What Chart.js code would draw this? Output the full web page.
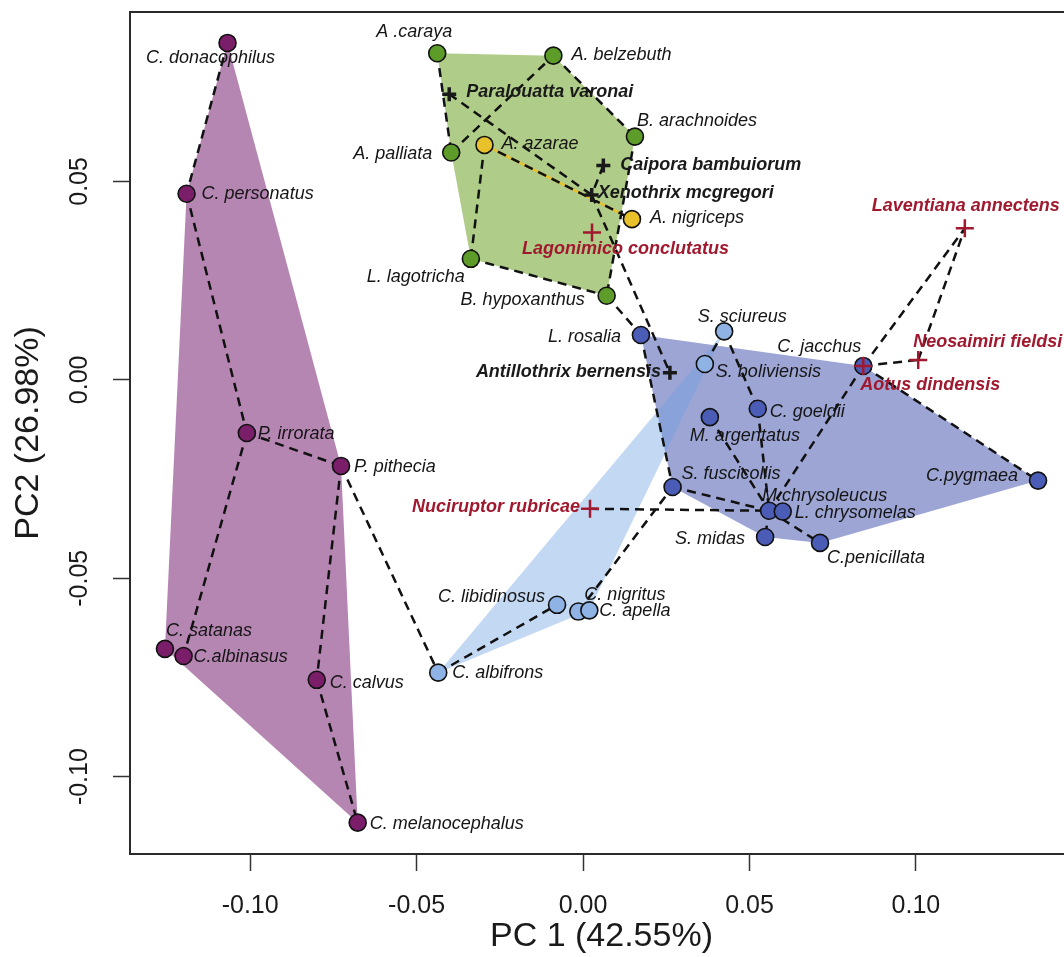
<!DOCTYPE html>
<html>
<head>
<meta charset="utf-8">
<script src="https://cdn.jsdelivr.net/npm/chart.js@4.4.1/dist/chart.umd.min.js"></script>
<style>
    html, body { margin: 0; padding: 0; background: #fff; overflow: hidden; }
    #pca { display: block; }
</style>
</head>
<body>
<canvas id="pca" width="1090" height="957"></canvas>
<script>
// Pitheciidae (purple)
const pitheciidNames = ['C. donacophilus', 'C. personatus', 'P. irrorata', 'P. pithecia', 'C. satanas', 'C.albinasus', 'C. calvus', 'C. melanocephalus'];
const pitheciidPC1 = [-0.1068, -0.1191, -0.1010, -0.0727, -0.1256, -0.1200, -0.0800, -0.0677];
const pitheciidPC2 = [0.0849, 0.0469, -0.0134, -0.0217, -0.0678, -0.0696, -0.0756, -0.1116];

// Atelidae (green)
const atelidNames = ['A .caraya', 'A. belzebuth', 'B. arachnoides', 'A. palliata', 'L. lagotricha', 'B. hypoxanthus'];
const atelidPC1 = [-0.0438, -0.0089, 0.0156, -0.0396, -0.0337, 0.0071];
const atelidPC2 = [0.0823, 0.0817, 0.0613, 0.0573, 0.0305, 0.0212];

// Alouatta pair (yellow)
const yellowNames = ['A. azarae', 'A. nigriceps'];
const yellowPC1 = [-0.0296, 0.0147];
const yellowPC2 = [0.0592, 0.0405];

// Cebinae (light blue)
const cebineNames = ['S. sciureus', 'S. boliviensis', 'C. libidinosus', 'C. nigritus', 'C. apella', 'C. albifrons'];
const cebinePC1 = [0.0424, 0.0366, -0.0078, -0.0014, 0.0019, -0.0435];
const cebinePC2 = [0.0122, 0.0040, -0.0567, -0.0584, -0.0581, -0.0738];

// Callitrichidae (dark blue)
const callitrichidNames = ['L. rosalia', 'C. jacchus', 'C. goeldii', 'M. argentatus', 'S. fuscicollis', 'M.chrysoleucus', 'L. chrysomelas', 'S. midas', 'C.penicillata', 'C.pygmaea'];
const callitrichidPC1 = [0.0174, 0.0842, 0.0525, 0.0381, 0.0269, 0.0559, 0.0600, 0.0547, 0.0712, 0.1367];
const callitrichidPC2 = [0.0113, 0.0035, -0.0073, -0.0094, -0.0270, -0.0330, -0.0332, -0.0396, -0.0411, -0.0254];

// Fossils
const antilleanNames = ['Paralouatta varonai', 'Caipora bambuiorum', 'Xenothrix mcgregori', 'Antillothrix bernensis'];
const antilleanPC1 = [-0.0402, 0.0061, 0.0026, 0.0261];
const antilleanPC2 = [0.0720, 0.0540, 0.0466, 0.0018];

const mioceneNames = ['Lagonimico conclutatus', 'Laventiana annectens', 'Neosaimiri fieldsi', 'Aotus dindensis', 'Nuciruptor rubricae'];
const miocenePC1 = [0.0027, 0.1147, 0.1007, 0.0842, 0.0021];
const miocenePC2 = [0.0371, 0.0382, 0.0050, 0.0035, -0.0325];

// Tree branches drawn as dashed lines
const treeEdges = [
    ['C. donacophilus', 'C. personatus'],
    ['C. personatus', 'P. irrorata'],
    ['P. irrorata', 'C.albinasus'],
    ['P. irrorata', 'P. pithecia'],
    ['P. pithecia', 'C. calvus'],
    ['C. calvus', 'C. melanocephalus'],
    ['P. pithecia', 'C. albifrons'],
    ['C. albifrons', 'C. libidinosus'],
    ['C. nigritus', 'S. fuscicollis'],
    ['A .caraya', 'A. palliata'],
    ['A. palliata', 'A. belzebuth'],
    ['A. belzebuth', 'B. arachnoides'],
    ['B. arachnoides', 'B. hypoxanthus'],
    ['L. lagotricha', 'B. hypoxanthus'],
    ['A. azarae', 'L. lagotricha'],
    ['A. azarae', 'A. nigriceps'],
    ['B. hypoxanthus', 'L. rosalia'],
    ['Paralouatta varonai', 'Xenothrix mcgregori'],
    ['Caipora bambuiorum', 'Xenothrix mcgregori'],
    ['Xenothrix mcgregori', 'Antillothrix bernensis'],
    ['L. rosalia', 'S. fuscicollis'],
    ['S. fuscicollis', 'M.chrysoleucus'],
    ['Nuciruptor rubricae', 'M.chrysoleucus'],
    ['S. boliviensis', 'S. sciureus'],
    ['S. sciureus', 'C. goeldii'],
    ['C. goeldii', 'M.chrysoleucus'],
    ['M. argentatus', 'M.chrysoleucus'],
    ['M.chrysoleucus', 'S. midas'],
    ['M.chrysoleucus', 'C.penicillata'],
    ['C. jacchus', 'M.chrysoleucus'],
    ['C. jacchus', 'C.pygmaea'],
    ['C. jacchus', 'Neosaimiri fieldsi'],
    ['C. jacchus', 'Laventiana annectens'],
    ['Neosaimiri fieldsi', 'Laventiana annectens']
];

// Axes
const pc1Range = [-0.1361, 0.1472];
const pc2Range = [-0.1195, 0.0927];
const pc1Ticks = [-0.10, -0.05, 0.00, 0.05, 0.10];
const pc2Ticks = [-0.10, -0.05, 0.00, 0.05];

// Label placement: [align, dx, dy] in pixels from the point
const labelLayout = {
    'C. donacophilus': ['c', -17, 15],
    'C. personatus': ['l', 15, 0],
    'P. irrorata': ['l', 11, 1],
    'P. pithecia': ['l', 13, 1],
    'C. satanas': ['l', 1, -18],
    'C.albinasus': ['l', 10, 1],
    'C. calvus': ['l', 13, 3],
    'C. melanocephalus': ['l', 12, 1],
    'A .caraya': ['c', -23, -21],
    'A. belzebuth': ['l', 18, -1],
    'B. arachnoides': ['l', 2, -16],
    'A. palliata': ['r', -19, 2],
    'L. lagotricha': ['r', -6, 18],
    'B. hypoxanthus': ['r', -22, 4],
    'A. azarae': ['l', 17, -1],
    'A. nigriceps': ['l', 18, -1],
    'S. sciureus': ['c', 18, -14],
    'S. boliviensis': ['l', 11, 8],
    'C. libidinosus': ['r', -12, -8],
    'C. nigritus': ['l', 6, -17],
    'C. apella': ['l', 10, 1],
    'C. albifrons': ['l', 14, 0],
    'L. rosalia': ['r', -20, 2],
    'C. jacchus': ['r', -2, -19],
    'C. goeldii': ['l', 12, 3],
    'M. argentatus': ['l', -20, 19],
    'S. fuscicollis': ['l', 9, -13],
    'M.chrysoleucus': ['l', -7, -15],
    'L. chrysomelas': ['l', 12, 1],
    'S. midas': ['r', -20, 2],
    'C.penicillata': ['l', 7, 15],
    'C.pygmaea': ['r', -20, -5],
    'Paralouatta varonai': ['l', 17, -2],
    'Caipora bambuiorum': ['l', 17, -1],
    'Xenothrix mcgregori': ['l', 6, -2],
    'Antillothrix bernensis': ['r', -9, -1],
    'Lagonimico conclutatus': ['l', -70, 16],
    'Laventiana annectens': ['c', 1, -22],
    'Neosaimiri fieldsi': ['l', -5, -18],
    'Aotus dindensis': ['l', -3, 19],
    'Nuciruptor rubricae': ['r', -10, -2]
};

const FONT = '"Liberation Sans", Arial, Helvetica, sans-serif';

const toPoints = (xs, ys) => xs.map((x, i) => ({ x: x, y: ys[i] }));

// Monotone chain convex hull
function convexHull(xs, ys) {
    const pts = toPoints(xs, ys).sort((a, b) => a.x - b.x || a.y - b.y);
    if (pts.length < 3) return pts;
    const cross = (o, a, b) => (a.x - o.x) * (b.y - o.y) - (a.y - o.y) * (b.x - o.x);
    const lower = [];
    for (const p of pts) {
        while (lower.length >= 2 && cross(lower[lower.length - 2], lower[lower.length - 1], p) <= 0) lower.pop();
        lower.push(p);
    }
    const upper = [];
    for (const p of pts.slice().reverse()) {
        while (upper.length >= 2 && cross(upper[upper.length - 2], upper[upper.length - 1], p) <= 0) upper.pop();
        upper.push(p);
    }
    lower.pop();
    upper.pop();
    const hull = lower.concat(upper);
    hull.push(hull[0]);
    return hull;
}

// Lookup of every taxon position for the tree edges
const allTaxa = {};
[
    [pitheciidNames, pitheciidPC1, pitheciidPC2],
    [atelidNames, atelidPC1, atelidPC2],
    [yellowNames, yellowPC1, yellowPC2],
    [cebineNames, cebinePC1, cebinePC2],
    [callitrichidNames, callitrichidPC1, callitrichidPC2],
    [antilleanNames, antilleanPC1, antilleanPC2],
    [mioceneNames, miocenePC1, miocenePC2]
].forEach(([names, xs, ys]) => {
    names.forEach((n, i) => { allTaxa[n] = { x: xs[i], y: ys[i] }; });
});

const edgePoints = [];
treeEdges.forEach(([a, b]) => {
    edgePoints.push(allTaxa[a], allTaxa[b], { x: NaN, y: NaN });
});

function hullDataset(xs, ys, fillColor) {
    return {
        data: convexHull(xs, ys),
        showLine: true,
        fill: 'shape',
        backgroundColor: fillColor,
        borderWidth: 0,
        pointRadius: 0,
        pointHitRadius: 0
    };
}

function pointDataset(names, xs, ys, color) {
    return {
        data: toPoints(xs, ys),
        speciesNames: names,
        labelFont: 'italic 18px ' + FONT,
        labelColor: '#151515',
        pointStyle: 'circle',
        pointRadius: 8.5,
        pointBorderWidth: 1.6,
        backgroundColor: color,
        borderColor: '#111'
    };
}

function fossilDataset(names, xs, ys, color, size, width) {
    return {
        data: toPoints(xs, ys),
        speciesNames: names,
        labelFont: 'italic bold 18px ' + FONT,
        labelColor: color,
        pointStyle: 'cross',
        pointRadius: size,
        pointBorderWidth: width,
        borderColor: color,
        backgroundColor: color
    };
}

// Species labels
const labelPlugin = {
    id: 'speciesLabels',
    afterDatasetsDraw(chart) {
        const ctx = chart.ctx;
        chart.data.datasets.forEach((ds, di) => {
            if (!ds.speciesNames) return;
            const meta = chart.getDatasetMeta(di);
            ctx.save();
            ctx.font = ds.labelFont;
            ctx.fillStyle = ds.labelColor;
            ctx.textBaseline = 'middle';
            meta.data.forEach((pt, i) => {
                const name = ds.speciesNames[i];
                const [align, dx, dy] = labelLayout[name] || ['l', 12, 0];
                ctx.textAlign = align === 'l' ? 'left' : (align === 'r' ? 'right' : 'center');
                ctx.fillText(name, pt.x + dx, pt.y + dy);
            });
            ctx.restore();
        });
    }
};

// Box around the plotting region
const boxPlugin = {
    id: 'plotBox',
    afterDraw(chart) {
        const { left, top, right, bottom } = chart.chartArea;
        const ctx = chart.ctx;
        ctx.save();
        ctx.strokeStyle = '#2a2a2a';
        ctx.lineWidth = 2;
        ctx.strokeRect(left, top, right - left, bottom - top);
        ctx.restore();
    }
};

const tickFormat = v => Number(v).toFixed(2);

new Chart(document.getElementById('pca'), {
    type: 'scatter',
    data: {
        datasets: [
            fossilDataset(mioceneNames, miocenePC1, miocenePC2, '#a0192f', 9, 2.5),
            fossilDataset(antilleanNames, antilleanPC1, antilleanPC2, '#1a1a1a', 7, 3.5),
            pointDataset(cebineNames, cebinePC1, cebinePC2, '#90b3e6'),
            pointDataset(callitrichidNames, callitrichidPC1, callitrichidPC2, '#4b5cb7'),
            pointDataset(yellowNames, yellowPC1, yellowPC2, '#e9c22b'),
            pointDataset(atelidNames, atelidPC1, atelidPC2, '#5e9c2a'),
            pointDataset(pitheciidNames, pitheciidPC1, pitheciidPC2, '#7b1e69'),
            {
                data: edgePoints,
                showLine: true,
                spanGaps: false,
                borderColor: '#111',
                borderWidth: 2.5,
                borderDash: [9, 6],
                pointRadius: 0,
                pointHitRadius: 0
            },
            hullDataset(cebinePC1, cebinePC2, 'rgba(110, 160, 225, 0.41)'),
            hullDataset(callitrichidPC1, callitrichidPC2, '#9da5d4'),
            {
                data: convexHull(yellowPC1, yellowPC2),
                showLine: true,
                borderColor: '#e9c22b',
                borderWidth: 2.5,
                pointRadius: 0,
                pointHitRadius: 0
            },
            hullDataset(atelidPC1, atelidPC2, '#afcc88'),
            hullDataset(pitheciidPC1, pitheciidPC2, '#b686b3')
        ]
    },
    options: {
        responsive: false,
        devicePixelRatio: 1,
        animation: false,
        layout: { padding: { top: 12, right: 17, bottom: 0, left: 0 } },
        plugins: {
            legend: { display: false },
            tooltip: { enabled: false }
        },
        scales: {
            x: {
                type: 'linear',
                min: pc1Range[0],
                max: pc1Range[1],
                afterBuildTicks: s => { s.ticks = pc1Ticks.map(v => ({ value: v })); },
                afterFit: s => { s.height = 103; s.paddingLeft = 0; s.paddingRight = 0; },
                border: { display: false },
                grid: { drawOnChartArea: false, drawTicks: true, tickLength: 17, tickWidth: 1.5, tickColor: '#333' },
                ticks: {
                    font: { family: FONT, size: 25 },
                    color: '#1a1a1a',
                    padding: 20,
                    autoSkip: false,
                    maxRotation: 0,
                    minRotation: 0,
                    callback: tickFormat
                },
                title: {
                    display: true,
                    text: 'PC 1 (42.55%)',
                    font: { family: FONT, size: 34 },
                    color: '#1a1a1a',
                    padding: { top: 0, bottom: 0 }
                }
            },
            y: {
                type: 'linear',
                min: pc2Range[0],
                max: pc2Range[1],
                afterBuildTicks: s => { s.ticks = pc2Ticks.map(v => ({ value: v })); },
                afterFit: s => { s.width = 130; s.paddingTop = 0; s.paddingBottom = 0; },
                border: { display: false },
                grid: { drawOnChartArea: false, drawTicks: true, tickLength: 17, tickWidth: 1.5, tickColor: '#333' },
                ticks: {
                    font: { family: FONT, size: 25 },
                    color: '#1a1a1a',
                    padding: 4,
                    autoSkip: false,
                    minRotation: 90,
                    maxRotation: 90,
                    crossAlign: 'center',
                    callback: tickFormat
                },
                title: {
                    display: true,
                    text: 'PC2 (26.98%)',
                    font: { family: FONT, size: 34 },
                    color: '#1a1a1a',
                    padding: { top: 8, bottom: 0 }
                }
            }
        }
    },
    plugins: [labelPlugin, boxPlugin]
});
</script>
</body>
</html>
